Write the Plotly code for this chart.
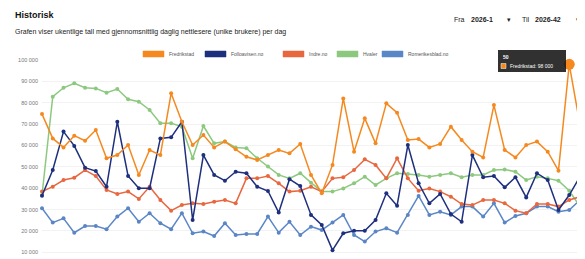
import plotly.graph_objects as go

weeks = list(range(1, 52))

series_names = ["Fredrikstad", "Folloavisen.no", "Indre.no", "Hvaler", "Romerikesblad.no"]
series_colors = ["#F5891F", "#1E2F7E", "#E8673F", "#8CC97F", "#5B86C6"]

orange = [74700, 63300, 59100, 64600, 62200, 67200, 54000, 55500, 60200, 46200,
          57900, 55500, 84400, 71100, 60200, 64900, 59100, 61800, 58200, 54700,
          53200, 55500, 57900, 56300, 60700, 46200, 37600, 50900, 82000, 57100,
          72700, 61000, 79700, 75300, 62600, 63000, 59100, 60700, 68800, 62600,
          57100, 54400, 78900, 57900, 54400, 60200, 61800, 57100, 48200, 98000,
          69600]
navy = [36500, 48500, 66500, 59800, 49600, 48000, 40700, 71100, 45700, 40000,
        40000, 63300, 63800, 71100, 25100, 55500, 46200, 43500, 47700, 47000,
        40700, 38700, 28600, 44200, 41000, 27500, 22800, 11000, 18900, 20100,
        20100, 25100, 37600, 31800, 60200, 42300, 32900, 37300, 27900, 24300,
        55500, 45100, 45700, 40400, 45100, 35700, 47000, 43800, 29800, 36800,
        45400]
red = [38400, 40700, 43800, 44900, 48500, 45700, 39200, 37300, 38400, 35000,
       40700, 34500, 29500, 32100, 32900, 32600, 33700, 34500, 32900, 44600,
       44600, 45700, 42300, 38400, 38800, 40700, 38400, 44600, 45100, 48500,
       53500, 50900, 44600, 54000, 44600, 38800, 39900, 38400, 36000, 32600,
       32100, 34500, 34500, 32900, 29500, 28300, 32600, 32600, 31400, 34500,
       36000]
green = [36800, 82800, 87000, 89100, 87000, 86700, 84700, 86400, 81600, 80500,
         76600, 70400, 70400, 68800, 54000, 69100, 61000, 61800, 59100, 58700,
         54000, 50100, 46200, 44600, 47000, 42600, 38400, 38400, 39900, 42300,
         45400, 41500, 44600, 47000, 46600, 46200, 45400, 46200, 47000, 45100,
         46200, 46200, 48500, 48800, 47700, 43800, 45400, 44600, 43500, 38800,
         31400]
steel = [30600, 23900, 25900, 19200, 22300, 22300, 20800, 26700, 30600, 24300,
         28300, 23600, 20800, 28300, 18900, 19700, 17600, 23600, 18100, 18600,
         18600, 26700, 19200, 24300, 18100, 22000, 20400, 23900, 27500, 18100,
         15000, 19700, 21200, 19200, 27500, 36400, 27500, 29000, 27500, 31400,
         31400, 26700, 32900, 23900, 27000, 28300, 31400, 31400, 29000, 29800,
         34500]

all_series = [orange, navy, red, green, steel]
tick_vals = [10000, 20000, 30000, 40000, 50000, 60000, 70000, 80000, 90000, 100000]
tick_text = ["10 000", "20 000", "30 000", "40 000", "50 000", "60 000",
             "70 000", "80 000", "90 000", "100 000"]

title_text = "Historisk"
subtitle_text = "Grafen viser ukentlige tall med gjennomsnittlig daglig nettlesere (unike brukere) per dag"
hover_idx = 49

# the page body has an 8px margin; build the figure so it lands on the reference pixels
OFF = 8
W, H = 585 - OFF, 259 - OFF
ML, MR, MT, MB = 42 - OFF, 5, 60 - OFF, 0
PW, PH = W - ML - MR, H - MT - MB


def px(x):
    return (x - OFF - ML) / PW


def py(y):
    return (H - MB - (y - OFF)) / PH


fig = go.Figure()
for name, color, vals in reversed(list(zip(series_names, series_colors, all_series))):
    fig.add_trace(go.Scatter(
        x=weeks, y=vals, mode="lines+markers", name=name,
        line=dict(color=color, width=1.5),
        marker=dict(color=color, size=4),
        showlegend=False, cliponaxis=False,
    ))

fig.add_trace(go.Scatter(
    x=[weeks[hover_idx]], y=[orange[hover_idx]], mode="markers",
    marker=dict(color=series_colors[0], size=11), showlegend=False, cliponaxis=False,
))

shapes = []
annotations = []

FONT = "Liberation Sans"

annotations.append(dict(xref="paper", yref="paper", x=px(13), y=py(15), text="<b>" + title_text + "</b>",
                        showarrow=False, xanchor="left", yanchor="middle",
                        font=dict(family=FONT, size=9, color="#111")))
annotations.append(dict(xref="paper", yref="paper", x=px(13), y=py(32), text=subtitle_text,
                        showarrow=False, xanchor="left", yanchor="middle",
                        font=dict(family=FONT, size=7, color="#222")))

sel = [(452, "Fra", False), (469, "2026-1", True), (505, "▾", False), (520, "Til", False),
       (533, "2026-42", True), (574, "▾", False)]
for x0, t, bold in sel:
    annotations.append(dict(xref="paper", yref="paper", x=px(x0), y=py(19),
                            text=("<b>" + t + "</b>") if bold else t,
                            showarrow=False, xanchor="left", yanchor="middle",
                            font=dict(family=FONT, size=7, color="#222")))

leg_x = [143, 205, 283, 337, 382]
for name, color, x0 in zip(series_names, series_colors, leg_x):
    shapes.append(dict(type="rect", xref="paper", yref="paper", x0=px(x0), x1=px(x0 + 21),
                       y0=py(57), y1=py(51), fillcolor=color, line=dict(color=color, width=0.5)))
    annotations.append(dict(xref="paper", yref="paper", x=px(x0 + 24), y=py(54), text=name,
                            showarrow=False, xanchor="left", yanchor="middle",
                            font=dict(family=FONT, size=5, color="#555")))

shapes.append(dict(type="rect", xref="paper", yref="paper", x0=px(498), x1=px(566),
                   y0=py(72), y1=py(50), fillcolor="rgba(20,20,20,0.88)", line=dict(width=0), layer="above"))
shapes.append(dict(type="rect", xref="paper", yref="paper", x0=px(501), x1=px(506),
                   y0=py(68.5), y1=py(63.5), fillcolor=series_colors[0],
                   line=dict(color="white", width=0.5), layer="above"))
annotations.append(dict(xref="paper", yref="paper", x=px(501), y=py(57), text="<b>" + str(weeks[hover_idx]) + "</b>",
                        showarrow=False, xanchor="left", yanchor="middle",
                        font=dict(family=FONT, size=5, color="white")))
val_txt = f"{orange[hover_idx]:,}".replace(",", " ")
annotations.append(dict(xref="paper", yref="paper", x=px(508), y=py(66),
                        text=series_names[0] + ": " + val_txt,
                        showarrow=False, xanchor="left", yanchor="middle",
                        font=dict(family=FONT, size=5, color="white")))

fig.update_layout(
    width=W, height=H,
    margin=dict(l=ML, r=MR, t=MT, b=MB, autoexpand=False),
    paper_bgcolor="white", plot_bgcolor="white",
    shapes=shapes, annotations=annotations,
    showlegend=False,
    xaxis=dict(range=[weeks[0], weeks[-1]], showgrid=False, zeroline=False,
               showticklabels=False, showline=False, fixedrange=True, automargin=False),
    yaxis=dict(range=[100000 - (PH / 192.3) * 90000, 100000], tickvals=tick_vals, ticktext=tick_text,
               showgrid=True, gridcolor="#f2f2f2", gridwidth=1, zeroline=False,
               showline=False, ticks="", ticklabelstandoff=3, automargin=False,
               tickfont=dict(family=FONT, size=5.5, color="#777")),
    hovermode=False,
)

fig.write_html("out.html")
